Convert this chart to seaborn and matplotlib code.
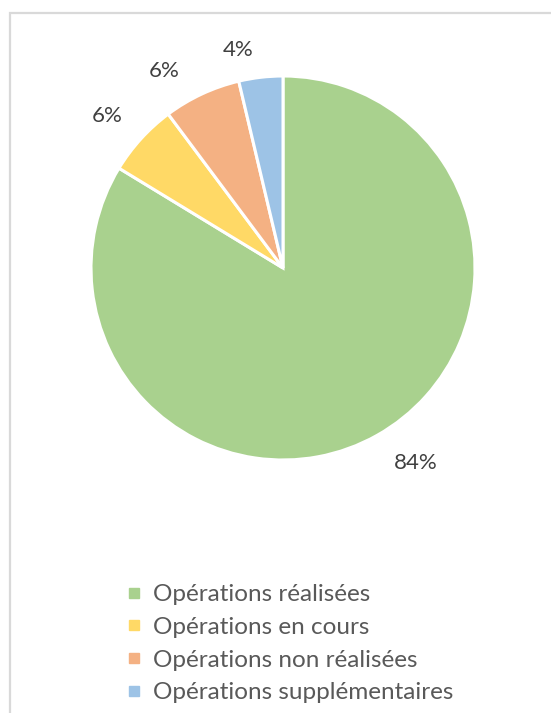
import matplotlib
matplotlib.use("Agg")
import numpy as np
import matplotlib.pyplot as plt
from matplotlib.lines import Line2D
from matplotlib.patches import Rectangle
import seaborn as sns

categories = ["Opérations réalisées", "Opérations en cours",
              "Opérations non réalisées", "Opérations supplémentaires"]
values = [83.7, 6.1, 6.5, 3.7]
labels_pct = ["84%", "6%", "6%", "4%"]
colors = ["#A9D18E", "#FFD966", "#F4B183", "#9DC3E6"]

# label placement (Excel "best fit" style): angular nudge (deg) and radial distance
label_nudge = [5.0, 1.5, 6.0, 5.0]
label_dist = [1.23, 1.21, 1.20, 1.16]

sns.set_theme(style="white")
plt.rcParams["font.family"] = ["Lato", "DejaVu Sans"]

W, H = 551, 713
fig = plt.figure(figsize=(W / 100, H / 100), dpi=100)

# light frame (open at right and bottom, as in the reference crop)
fig.patches.append(Rectangle((10 / W, -0.2), 1.2, (H - 13) / H + 0.2, transform=fig.transFigure,
                             fill=False, edgecolor="#d9d9d9", linewidth=1.6))

cx, cy, r = 283, 268, 192
ax = fig.add_axes([(cx - r) / W, (H - cy - r) / H, 2 * r / W, 2 * r / H])
pal = sns.color_palette(colors)
wedges, texts = ax.pie(values, labels=labels_pct, colors=pal, startangle=90,
                       counterclock=False, labeldistance=1.21,
                       wedgeprops=dict(edgecolor="white", linewidth=2.2),
                       textprops=dict(fontsize=16, color="#404040"))
for w, t, dn, dd in zip(wedges, texts, label_nudge, label_dist):
    ang = np.deg2rad((w.theta1 + w.theta2) / 2 + dn)
    t.set_position((dd * np.cos(ang), dd * np.sin(ang)))
    t.set_ha("center")
    t.set_va("center")
ax.set_xlim(-1, 1)
ax.set_ylim(-1, 1)
ax.set_aspect("equal")

handles = [Line2D([], [], marker="s", linestyle="none", markersize=7,
                  markerfacecolor=c, markeredgecolor=c) for c in colors]
fig.legend(handles, categories, loc="upper left",
           bbox_to_anchor=(115 / W, 1 - 572 / H), frameon=False,
           fontsize=17.5, labelcolor="#595959", handlelength=0.6,
           handletextpad=0.45, labelspacing=0.48, borderpad=0)

fig.savefig("out.png", dpi=100, facecolor="white")
